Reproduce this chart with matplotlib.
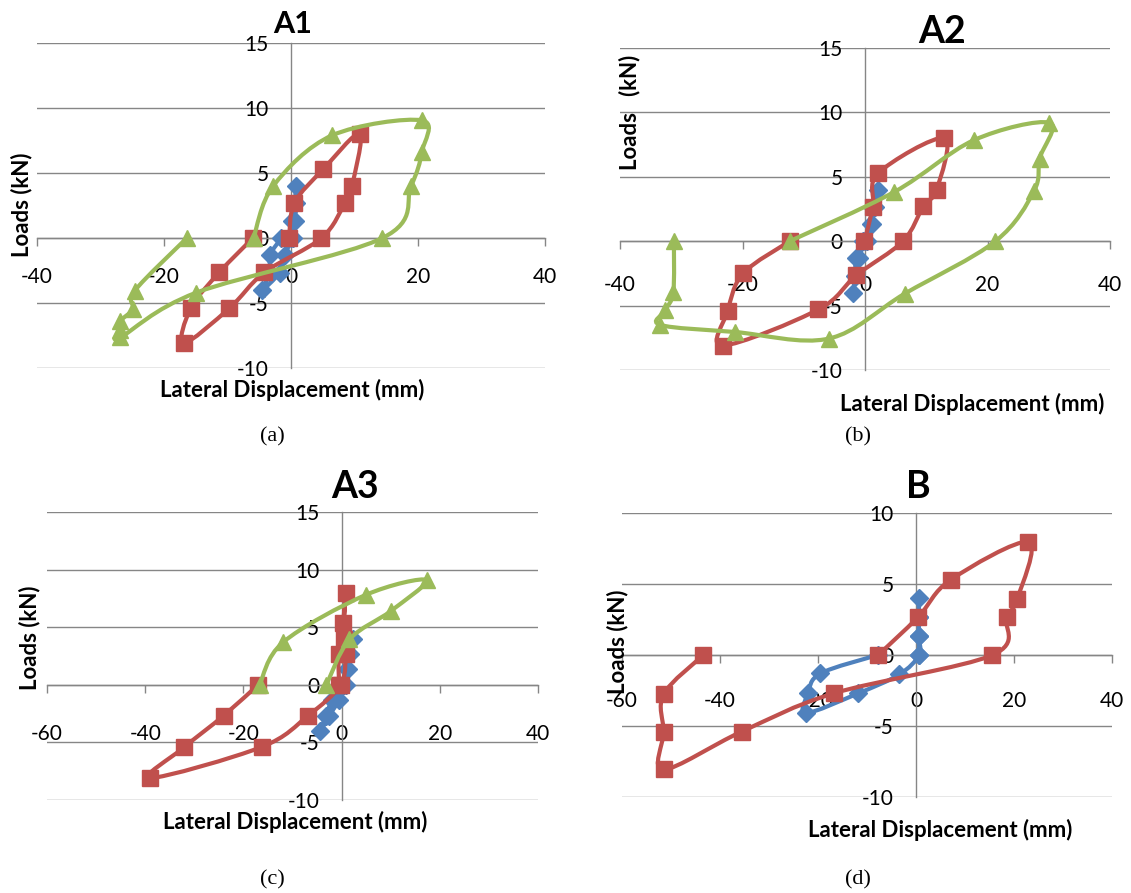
import numpy as np
import matplotlib
matplotlib.use('Agg')
import matplotlib.pyplot as plt
from matplotlib.path import Path
from matplotlib.patches import PathPatch

plt.rcParams['font.family'] = ['Lato', 'DejaVu Sans']
plt.rcParams['axes.unicode_minus'] = False

BLUE = '#4F81BD'
RED = '#C0504D'
GREEN = '#9BBB59'
GRID = '#868686'

# ---------------- data ----------------
load13 = [0, 1.33, 2.67, 4.0, 2.67, 1.33, 0, -1.33, -2.67, -4.0, -2.67, -1.33, 0]

# A1
a1_blue_x = [0.3, 0.6, 0.8, 0.8, 0.6, 0.2, 0.0, -0.9, -1.8, -4.6, -3.3, -3.3, -1.5]
a1_blue_y = load13
a1_red_x = [-0.3, 0.55, 5.1, 10.8, 9.6, 8.5, 4.8, -4.2, -9.7, -16.9, -15.8, -11.3, -6.0]
a1_red_y = [0, 2.7, 5.3, 8.0, 4.0, 2.7, 0, -2.65, -5.4, -8.1, -5.4, -2.65, 0]
a1_green_x = [-5.9, -2.8, 6.5, 20.6, 20.6, 18.9, 14.4, -14.9, -26.9, -26.9, -26.9, -24.9, -24.6, -16.4]
a1_green_y = [0, 4.0, 7.9, 9.05, 6.6, 4.0, 0, -4.2, -7.65, -7.1, -6.4, -5.45, -4.05, 0]

# A2
a2_blue_x = [-0.3, 1.1, 1.2, 2.2, 1.6, 1.0, 0.3, -1.4, -1.6, -1.9, -1.5, -1.0, 0.0]
a2_blue_y = load13
a2_red_x = [-0.1, 1.3, 2.2, 12.9, 11.7, 9.5, 6.2, -1.4, -7.6, -23.2, -22.4, -19.9, -12.3]
a2_red_y = [0, 2.67, 5.3, 8.0, 4.0, 2.7, 0, -2.64, -5.3, -8.1, -5.4, -2.5, 0]
a2_green_x = [-12.3, 4.8, 17.8, 30.1, 28.5, 27.6, 21.3, 6.5, -5.9, -21.2, -33.4, -32.6, -31.3, -31.2]
a2_green_y = [0, 3.83, 7.85, 9.2, 6.4, 3.9, 0, -4.07, -7.56, -7.05, -6.5, -5.36, -3.94, 0]

# A3
a3_blue_x = [0.5, 1.4, 1.8, 2.4, 1.6, 1.2, 0.8, -0.5, -2.5, -4.3, -3.2, -2.0, -0.5]
a3_blue_y = load13
a3_red_x = [-0.5, -0.6, 0.3, 0.8, 0.4, 0.8, -0.2, -6.8, -16.3, -39.0, -32.0, -24.0, -17.0]
a3_red_y = [0, 2.67, 5.33, 8.0, 4.0, 2.67, 0, -2.67, -5.4, -8.1, -5.4, -2.67, 0]
a3_green_x = [-3.1, 1.6, 10.0, 17.3, 4.9, -11.9, -16.7]
a3_green_y = [0, 3.94, 6.4, 9.1, 7.8, 3.7, 0]

# B
b_blue_x = [0.6, 0.6, 0.6, 0.6, 0.6, 0.6, 0.6, -3.4, -11.8, -22.4, -22.0, -19.5, -7.8]
b_blue_y = [0, 1.33, 2.67, 4.0, 2.67, 1.33, 0, -1.37, -2.7, -4.08, -2.7, -1.3, 0]
b_red_x = [-7.7, 0.5, 7.1, 22.9, 20.7, 18.5, 15.6, -16.8, -35.6, -51.5, -51.5, -51.5, -43.4]
b_red_y = [0, 2.7, 5.3, 7.95, 3.97, 2.65, 0, -2.7, -5.4, -8.06, -5.4, -2.76, 0]

x_ticks_a = [-40, -20, 0, 20, 40]
x_ticks_b = [-60, -40, -20, 0, 20, 40]
y_ticks_a = [-10, -5, 0, 5, 10, 15]
y_ticks_b = [-10, -5, 0, 5, 10]

# ---------------- drawing ----------------
W, H = 1131, 893
fig = plt.figure(figsize=(W / 100, H / 100), dpi=100)

TICK_FS = 15
LAB_FS = 16
CAP_FS = 16


def rect(l, t, r, b):
    return [l / W, 1 - b / H, (r - l) / W, (b - t) / H]


def smooth_path(x, y):
    P = np.column_stack([x, y]).astype(float)
    n = len(P)
    verts = [P[0]]
    codes = [Path.MOVETO]
    for i in range(n - 1):
        p0 = P[i - 1] if i > 0 else P[i]
        p1 = P[i]
        p2 = P[i + 1]
        p3 = P[i + 2] if i + 2 < n else P[i + 1]
        verts += [p1 + (p2 - p0) / 6.0, p2 - (p3 - p1) / 6.0, p2]
        codes += [Path.CURVE4] * 3
    return Path(verts, codes)


def series(ax, x, y, color, marker, ms):
    ax.add_patch(PathPatch(smooth_path(x, y), fill=False, edgecolor=color,
                           lw=3, capstyle='round', joinstyle='round', zorder=3))
    ax.plot(x, y, ls='none', marker=marker, ms=ms, color=color, mec=color, zorder=3)


def setup(ax, xlim, xticks, ylim, yticks, xpad):
    ax.set_xlim(xlim)
    ax.set_ylim(ylim)
    ax.set_xticks(xticks)
    ax.set_yticks(yticks)
    for s in ['top', 'right']:
        ax.spines[s].set_visible(False)
    ax.spines['left'].set_position(('data', 0))
    ax.spines['bottom'].set_position(('data', 0))
    for s in ['left', 'bottom']:
        ax.spines[s].set_color(GRID)
        ax.spines[s].set_linewidth(1)
    ax.grid(axis='y', color=GRID, lw=1)
    ax.set_axisbelow(True)
    ax.tick_params(axis='x', direction='out', length=6, width=1, color=GRID,
                   pad=xpad, labelsize=TICK_FS)
    ax.tick_params(axis='y', length=0, pad=16, labelsize=TICK_FS)
    ax.patch.set_visible(False)


def ftext(x, y, s, **kw):
    fig.text(x / W, 1 - y / H, s, ha='center', va='center', **kw)


# A1
ax1 = fig.add_axes(rect(37, 43, 545, 368))
setup(ax1, (-40, 40), x_ticks_a, (-10, 15), y_ticks_a, 15)
series(ax1, a1_blue_x, a1_blue_y, BLUE, 'D', 9)
series(ax1, a1_red_x, a1_red_y, RED, 's', 11)
series(ax1, a1_green_x, a1_green_y, GREEN, '^', 11)
ftext(293, 24, 'A1', fontsize=22, fontweight='bold')
ftext(22, 205, 'Loads (kN)', fontsize=LAB_FS, fontweight='bold', rotation=90)
ftext(292, 390, 'Lateral Displacement (mm)', fontsize=LAB_FS, fontweight='bold')
ftext(272, 437, '(a)', fontsize=CAP_FS, family='Liberation Serif')

# A2
ax2 = fig.add_axes(rect(620, 48, 1110, 370))
setup(ax2, (-40, 40), x_ticks_a, (-10, 15), y_ticks_a, 18)
series(ax2, a2_blue_x, a2_blue_y, BLUE, 'D', 9)
series(ax2, a2_red_x, a2_red_y, RED, 's', 11)
series(ax2, a2_green_x, a2_green_y, GREEN, '^', 11)
ftext(942, 32, 'A2', fontsize=27, fontweight='bold')
ftext(630, 112, 'Loads   (kN)', fontsize=LAB_FS, fontweight='bold', rotation=90)
ftext(972, 404, 'Lateral Displacement (mm)', fontsize=LAB_FS, fontweight='bold')
ftext(858, 437, '(b)', fontsize=CAP_FS, family='Liberation Serif')

# A3
ax3 = fig.add_axes(rect(47, 512, 538, 800))
setup(ax3, (-60, 40), x_ticks_b, (-10, 15), y_ticks_a, 22)
series(ax3, a3_blue_x, a3_blue_y, BLUE, 'D', 9)
series(ax3, a3_red_x, a3_red_y, RED, 's', 11)
series(ax3, a3_green_x, a3_green_y, GREEN, '^', 11)
ftext(355, 487, 'A3', fontsize=27, fontweight='bold')
ftext(30, 638, 'Loads (kN)', fontsize=LAB_FS, fontweight='bold', rotation=90)
ftext(295, 822, 'Lateral Displacement (mm)', fontsize=LAB_FS, fontweight='bold')
ftext(272, 880, '(c)', fontsize=CAP_FS, family='Liberation Serif')

# B
ax4 = fig.add_axes(rect(622, 513, 1112, 797))
setup(ax4, (-60, 40), x_ticks_b, (-10, 10), y_ticks_b, 20)
series(ax4, b_blue_x, b_blue_y, BLUE, 'D', 9)
series(ax4, b_red_x, b_red_y, RED, 's', 11)
ftext(918, 487, 'B', fontsize=27, fontweight='bold')
ftext(618, 642, 'Loads (kN)', fontsize=LAB_FS, fontweight='bold', rotation=90)
ftext(940, 830, 'Lateral Displacement (mm)', fontsize=LAB_FS, fontweight='bold')
ftext(858, 880, '(d)', fontsize=CAP_FS, family='Liberation Serif')

fig.savefig('out.png', dpi=100)
